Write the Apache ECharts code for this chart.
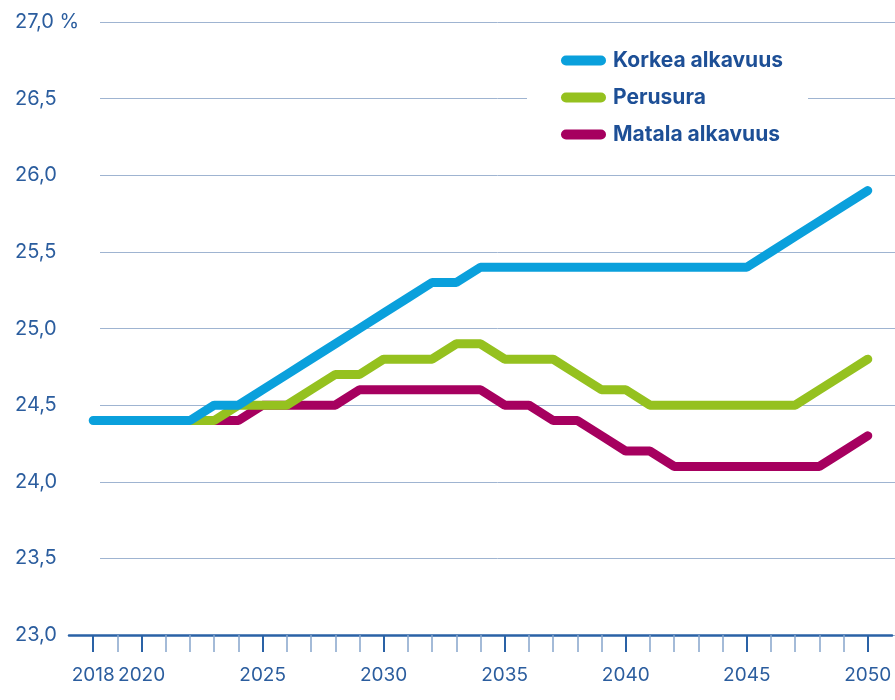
<!DOCTYPE html>
<html>
<head>
<meta charset="utf-8">
<script src="https://cdn.jsdelivr.net/npm/echarts@6/dist/echarts.min.js"></script>
<style>
  html, body { margin: 0; padding: 0; background: #fff; }
  #chart { width: 895px; height: 700px; }
</style>
</head>
<body>
<div id="chart"></div>
<script>
// years on the x axis
var years = [2018, 2019, 2020, 2021, 2022, 2023, 2024, 2025, 2026, 2027, 2028,
  2029, 2030, 2031, 2032, 2033, 2034, 2035, 2036, 2037, 2038, 2039, 2040,
  2041, 2042, 2043, 2044, 2045, 2046, 2047, 2048, 2049, 2050]
var labelYears = [2018, 2020, 2025, 2030, 2035, 2040, 2045, 2050]

// percentage values
var korkea = [24.4, 24.4, 24.4, 24.4, 24.4, 24.5, 24.5, 24.6, 24.7, 24.8, 24.9,
  25.0, 25.1, 25.2, 25.3, 25.3, 25.4, 25.4, 25.4, 25.4, 25.4, 25.4, 25.4,
  25.4, 25.4, 25.4, 25.4, 25.4, 25.5, 25.6, 25.7, 25.8, 25.9]
var perusura = [null, null, null, null, 24.4, 24.4, 24.5, 24.5, 24.5, 24.6, 24.7,
  24.7, 24.8, 24.8, 24.8, 24.9, 24.9, 24.8, 24.8, 24.8, 24.7, 24.6, 24.6,
  24.5, 24.5, 24.5, 24.5, 24.5, 24.5, 24.5, 24.6, 24.7, 24.8]
var matala = [null, null, null, null, null, 24.4, 24.4, 24.5, 24.5, 24.5, 24.5,
  24.6, 24.6, 24.6, 24.6, 24.6, 24.6, 24.5, 24.5, 24.4, 24.4, 24.3, 24.2,
  24.2, 24.1, 24.1, 24.1, 24.1, 24.1, 24.1, 24.1, 24.2, 24.3]

var names = ['Korkea alkavuus', 'Perusura', 'Matala alkavuus']

// axis categories: one empty year of room on each side
var categories = [String(years[0] - 1)]
  .concat(years.map(String))
  .concat([String(years[years.length - 1] + 1)])

function inRange(v) {
  return +v >= years[0] && +v <= years[years.length - 1]
}
function isLabelYear(v) {
  return labelYears.indexOf(+v) >= 0
}

function pairs(values) {
  var out = []
  values.forEach(function (v, i) {
    if (v !== null) out.push([String(years[i]), v])
  })
  return out
}

var font = 'Inter'
var axisBlue = '#2a62a6'
var textBlue = '#2b5d9e'

var chart = echarts.init(document.getElementById('chart'))

function line(name, values, color, z) {
  return {
    name: name,
    type: 'line',
    xAxisIndex: 0,
    yAxisIndex: 1,
    data: pairs(values),
    showSymbol: false,
    symbol: 'none',
    z: z,
    lineStyle: { color: color, width: 9, cap: 'round' },
    itemStyle: { color: color },
    animation: false
  }
}

chart.setOption({
  backgroundColor: '#fff',
  grid: [
    // grid lines + y labels
    { left: 100, right: 0, top: 22, bottom: 65 },
    // series + x axis
    { left: 69, right: 3, top: 22, bottom: 65 }
  ],
  legend: {
    data: names,
    orient: 'vertical',
    left: 527,
    top: 30,
    padding: [20, 25, 20, 34],
    backgroundColor: '#fff',
    itemWidth: 45,
    itemHeight: 10,
    itemGap: 16,
    icon: 'path://M5,0 H40 A5,5 0 0 1 40,10 H5 A5,5 0 0 1 5,0 Z',
    textStyle: {
      color: '#1d4f96',
      fontFamily: font,
      fontSize: 21,
      fontWeight: 'bold',
      lineHeight: 20,
      padding: [0, 0, 0, 2]
    }
  },
  xAxis: [
    {
      gridIndex: 1,
      type: 'category',
      position: 'bottom',
      data: categories,
      boundaryGap: false,
      axisLine: { show: true, lineStyle: { color: axisBlue, width: 2.5 } },
      axisTick: {
        show: true,
        interval: function (i, v) { return isLabelYear(v) },
        length: 17,
        lineStyle: { color: axisBlue, width: 2 }
      },
      axisLabel: {
        interval: function (i, v) { return isLabelYear(v) },
        margin: 31,
        color: textBlue,
        fontFamily: font,
        fontSize: 19
      },
      splitLine: { show: false }
    },
    {
      gridIndex: 1,
      type: 'category',
      position: 'bottom',
      data: categories,
      boundaryGap: false,
      axisLine: { show: false },
      axisTick: {
        show: true,
        interval: function (i, v) { return inRange(v) && !isLabelYear(v) },
        length: 17,
        lineStyle: { color: '#86a5cc', width: 1.5 }
      },
      axisLabel: { show: false },
      splitLine: { show: false }
    },
    { gridIndex: 0, type: 'value', min: 0, max: 1, show: false }
  ],
  yAxis: [
    {
      gridIndex: 0,
      type: 'value',
      min: 23,
      max: 27,
      interval: 0.5,
      axisLine: { show: false },
      axisTick: { show: false },
      axisLabel: {
        align: 'left',
        margin: 85,
        color: textBlue,
        fontFamily: font,
        fontSize: 20,
        formatter: function (v) {
          var s = v.toFixed(1).replace('.', ',')
          return v === 27 ? s + ' %' : s
        }
      },
      splitLine: { show: true, lineStyle: { color: '#9fb4d1', width: 1 } }
    },
    {
      gridIndex: 1,
      type: 'value',
      min: 23,
      max: 27,
      interval: 0.5,
      show: false
    }
  ],
  series: [
    line(names[0], korkea, '#0aa0dc', 5),
    line(names[1], perusura, '#95c11f', 4),
    line(names[2], matala, '#a6005f', 3)
  ]
})
</script>
</body>
</html>
